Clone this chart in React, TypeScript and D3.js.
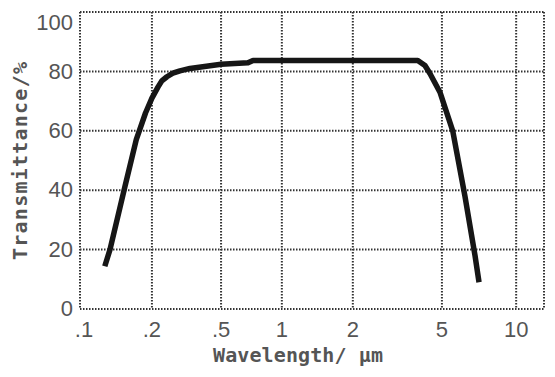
import React from "react";
import * as d3 from "d3";

const wavelength = [0.127, 0.1335, 0.154, 0.172, 0.188, 0.2, 0.2166, 0.228, 0.244, 0.264, 0.29, 0.331, 0.5, 0.68, 0.72, 3.9, 4.2, 4.42, 4.9, 5.53, 6.2, 6.81, 7.07];
const transmittance = [14.4, 20, 41, 57, 66, 71, 74.7, 76.8, 78.2, 79.4, 80.2, 81, 82.4, 82.9, 83.7, 83.7, 82, 79.3, 73, 60, 38, 18, 9];

const xTicks = [0.1, 0.2, 0.5, 1, 2, 5, 10];
const xTickLabels = [".1", ".2", ".5", "1", "2", "5", "10"];
const xDomainEnd = 13;
// relative placement of tick values along the axis (the original axis is not strictly logarithmic)
const xTickFractions = [0, 0.155, 0.304, 0.435, 0.588, 0.78, 0.94, 1];
const yTicks = [0, 20, 40, 60, 80, 100];

const W = 555;
const H = 377;
const M = { left: 80, right: 11, top: 12, bottom: 68 };

export default function App() {
  const iw = W - M.left - M.right;
  const ih = H - M.top - M.bottom;
  const x = d3
    .scaleLog()
    .domain([...xTicks, xDomainEnd])
    .range(xTickFractions.map((f) => M.left + f * iw));
  const y = d3.scaleLinear().domain([0, 100]).range([M.top + ih, M.top]);

  const pts = wavelength.map((w, i) => [w, transmittance[i]] as [number, number]);
  const line = d3
    .line<[number, number]>()
    .x((d) => x(d[0]))
    .y((d) => y(d[1]))
    .curve(d3.curveLinear);

  const gridStyle = { stroke: "#333", strokeWidth: 2, strokeDasharray: "1.5 1.5", fill: "none" };
  const labelFont = "'Liberation Sans', Arial, sans-serif";
  const titleFont = "'DejaVu Sans Mono', monospace";

  return (
    <svg
      width={W}
      height={H}
      style={{ position: "absolute", left: 0, top: 0, display: "block", background: "#fff" }}
    >
      {/* grid */}
      {yTicks.map((t) => (
        <line key={"gy" + t} x1={M.left} x2={M.left + iw} y1={y(t)} y2={y(t)} style={gridStyle} />
      ))}
      {[...xTicks, xDomainEnd].map((t) => (
        <line key={"gx" + t} x1={x(t)} x2={x(t)} y1={M.top} y2={M.top + ih} style={gridStyle} />
      ))}

      {/* curve */}
      <path d={line(pts) || ""} fill="none" stroke="#161616" strokeWidth={5.5} strokeLinejoin="round" />

      {/* y tick labels */}
      {yTicks.map((t) => (
        <text
          key={"ly" + t}
          x={M.left - 7}
          y={Math.max(y(t), M.top + 11)}
          dy="0.33em"
          textAnchor="end"
          fontFamily={labelFont}
          fontSize={22}
          fill="#555"
        >
          {t}
        </text>
      ))}

      {/* x tick labels */}
      {xTicks.map((t, i) => (
        <text
          key={"lx" + t}
          x={x(t) + (i === 0 ? 4 : 0)}
          y={337}
          textAnchor="middle"
          fontFamily={labelFont}
          fontSize={22}
          fill="#555"
        >
          {xTickLabels[i]}
        </text>
      ))}

      {/* axis titles */}
      <text
        x={298}
        y={362}
        textAnchor="middle"
        fontFamily={titleFont}
        fontWeight="bold"
        fontSize={20}
        fill="#555"
        textLength={170}
      >
        Wavelength/ µm
      </text>
      <text
        transform={`translate(27,${161}) rotate(-90)`}
        textAnchor="middle"
        fontFamily={titleFont}
        fontWeight="bold"
        fontSize={20}
        fill="#555"
        textLength={198}
      >
        Transmittance/%
      </text>
    </svg>
  );
}
